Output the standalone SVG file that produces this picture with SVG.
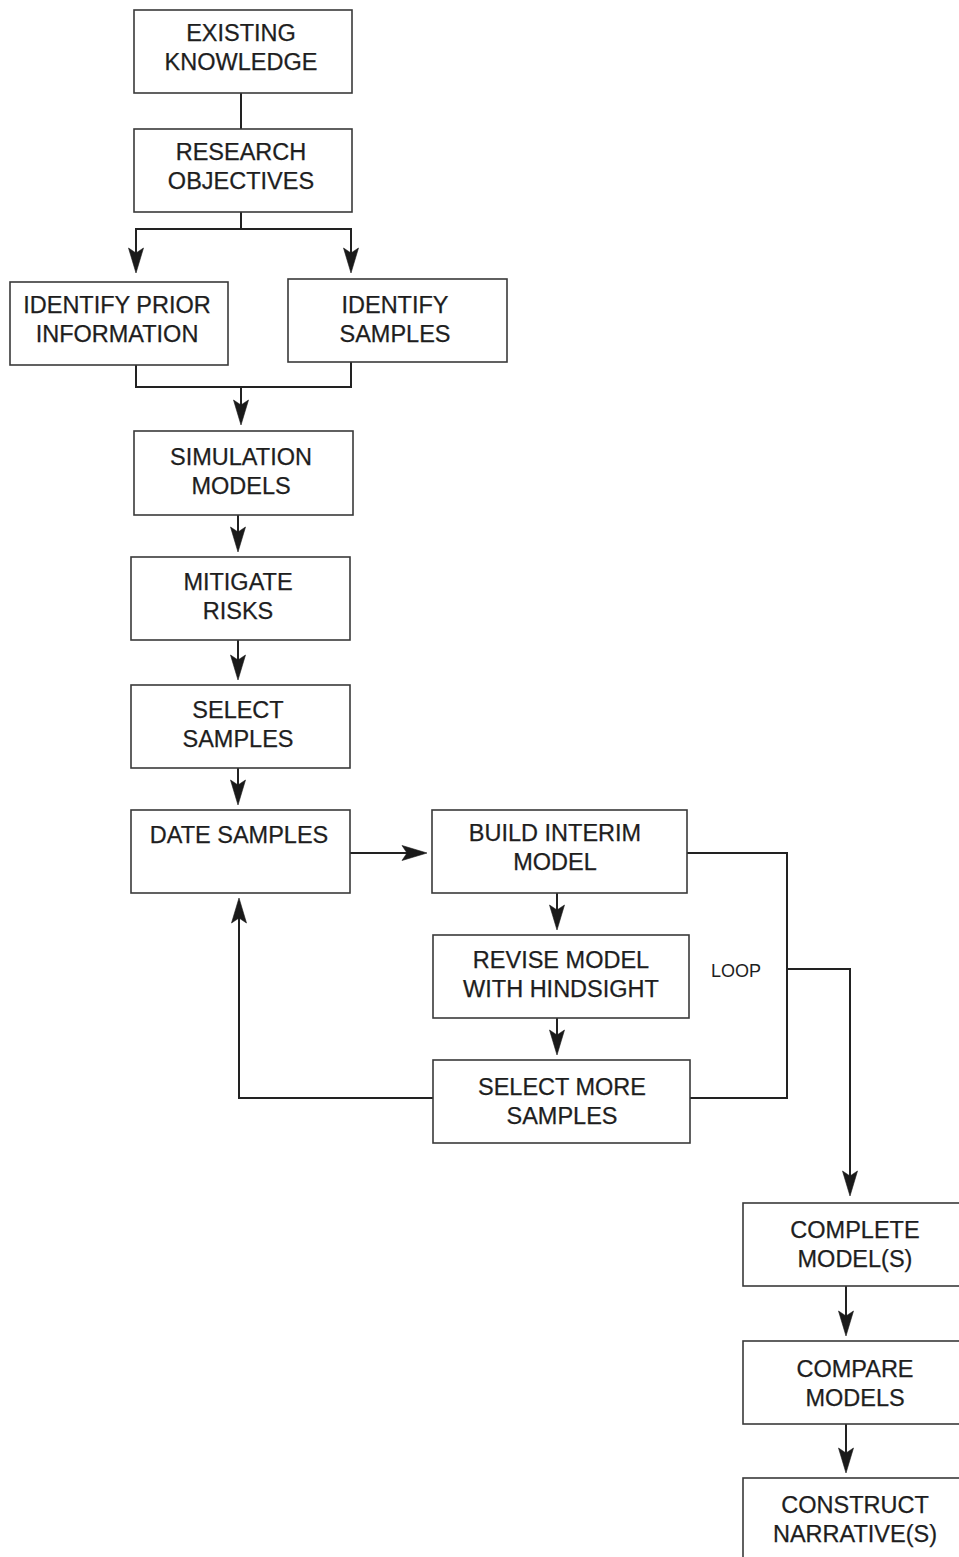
<svg xmlns="http://www.w3.org/2000/svg" xmlns:xlink="http://www.w3.org/1999/xlink" width="959" height="1557" viewBox="0 0 959 1557">
<style>
.box{fill:#fff;stroke:#3a3a3a;stroke-width:1.6}
.t{font-family:"Liberation Sans",Arial,sans-serif;font-size:23.5px;fill:#1e1e1e;text-anchor:middle;stroke:#1e1e1e;stroke-width:0.25}
.lbl{font-family:"Liberation Sans",Arial,sans-serif;font-size:18px;fill:#1e1e1e}
.c{fill:none;stroke:#222;stroke-width:2}
.ah{fill:#1a1a1a;stroke:#1a1a1a;stroke-width:0.6}
</style>
<defs>
<path id="arr" class="ah" d="M0,0 L-7.5,-25 L0,-20 L7.5,-25 Z"/>
</defs>
<rect width="959" height="1557" fill="#fff"/>
<g id="connectors">
<path class="c" d="M241,93 V129"/>
<path class="c" d="M241,212 V229 H136 V260"/>
<path class="c" d="M241,229 H351 V260"/>
<path class="c" d="M136,365 V387 H351 V362"/>
<path class="c" d="M241,387 V412"/>
<path class="c" d="M238,515 V540"/>
<path class="c" d="M238,640 V668"/>
<path class="c" d="M238,768 V793"/>
<path class="c" d="M350,853 H415"/>
<path class="c" d="M557,893 V918"/>
<path class="c" d="M557,1018 V1043"/>
<path class="c" d="M433,1098 H239 V910"/>
<path class="c" d="M687,853 H787 V1098 H690"/>
<path class="c" d="M787,969 H850 V1184"/>
<path class="c" d="M846,1286 V1324"/>
<path class="c" d="M846,1424 V1461"/>
<use xlink:href="#arr" href="#arr" transform="translate(136,273)"/>
<use xlink:href="#arr" href="#arr" transform="translate(351,273)"/>
<use xlink:href="#arr" href="#arr" transform="translate(241,425)"/>
<use xlink:href="#arr" href="#arr" transform="translate(238,552)"/>
<use xlink:href="#arr" href="#arr" transform="translate(238,680)"/>
<use xlink:href="#arr" href="#arr" transform="translate(238,805)"/>
<use xlink:href="#arr" href="#arr" transform="translate(427,853) rotate(-90)"/>
<use xlink:href="#arr" href="#arr" transform="translate(557,930)"/>
<use xlink:href="#arr" href="#arr" transform="translate(557,1055)"/>
<use xlink:href="#arr" href="#arr" transform="translate(239,898) rotate(180)"/>
<use xlink:href="#arr" href="#arr" transform="translate(850,1196)"/>
<use xlink:href="#arr" href="#arr" transform="translate(846,1336)"/>
<use xlink:href="#arr" href="#arr" transform="translate(846,1473)"/>
<text class="lbl" x="711" y="977">LOOP</text>
</g>
<g id="existing-knowledge"><rect class="box" x="134" y="10" width="218" height="83"/><text class="t" x="241" y="41">EXISTING</text><text class="t" x="241" y="70">KNOWLEDGE</text></g>
<g id="research-objectives"><rect class="box" x="134" y="129" width="218" height="83"/><text class="t" x="241" y="160">RESEARCH</text><text class="t" x="241" y="189">OBJECTIVES</text></g>
<g id="identify-prior"><rect class="box" x="10" y="282" width="218" height="83"/><text class="t" x="117" y="313">IDENTIFY PRIOR</text><text class="t" x="117" y="342">INFORMATION</text></g>
<g id="identify-samples"><rect class="box" x="288" y="279" width="219" height="83"/><text class="t" x="395" y="313">IDENTIFY</text><text class="t" x="395" y="342">SAMPLES</text></g>
<g id="simulation-models"><rect class="box" x="134" y="431" width="219" height="84"/><text class="t" x="241" y="465">SIMULATION</text><text class="t" x="241" y="494">MODELS</text></g>
<g id="mitigate-risks"><rect class="box" x="131" y="557" width="219" height="83"/><text class="t" x="238" y="590">MITIGATE</text><text class="t" x="238" y="619">RISKS</text></g>
<g id="select-samples"><rect class="box" x="131" y="685" width="219" height="83"/><text class="t" x="238" y="718">SELECT</text><text class="t" x="238" y="747">SAMPLES</text></g>
<g id="date-samples"><rect class="box" x="131" y="810" width="219" height="83"/><text class="t" x="239" y="843">DATE SAMPLES</text></g>
<g id="build-interim-model"><rect class="box" x="432" y="810" width="255" height="83"/><text class="t" x="555" y="841">BUILD INTERIM</text><text class="t" x="555" y="870">MODEL</text></g>
<g id="revise-model"><rect class="box" x="433" y="935" width="256" height="83"/><text class="t" x="561" y="968">REVISE MODEL</text><text class="t" x="561" y="997">WITH HINDSIGHT</text></g>
<g id="select-more-samples"><rect class="box" x="433" y="1060" width="257" height="83"/><text class="t" x="562" y="1095">SELECT MORE</text><text class="t" x="562" y="1124">SAMPLES</text></g>
<g id="complete-models"><rect class="box" x="743" y="1203" width="230" height="83"/><text class="t" x="855" y="1238">COMPLETE</text><text class="t" x="855" y="1267">MODEL(S)</text></g>
<g id="compare-models"><rect class="box" x="743" y="1341" width="230" height="83"/><text class="t" x="855" y="1377">COMPARE</text><text class="t" x="855" y="1406">MODELS</text></g>
<g id="construct-narratives"><rect class="box" x="743" y="1478" width="230" height="100"/><text class="t" x="855" y="1513">CONSTRUCT</text><text class="t" x="855" y="1542">NARRATIVE(S)</text></g>
</svg>
